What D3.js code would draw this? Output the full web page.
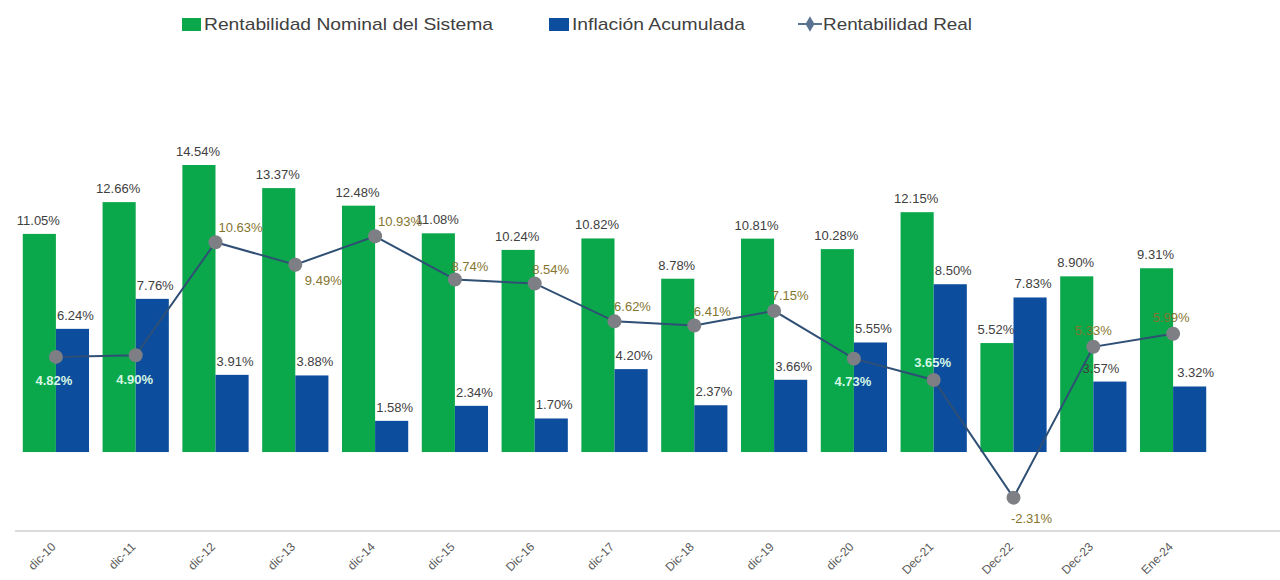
<!DOCTYPE html>
<html>
<head>
<meta charset="utf-8">
<script src="https://cdn.jsdelivr.net/npm/d3@7"></script>
<style>
  html, body { margin: 0; padding: 0; background: #fff; }
  svg { display: block; font-family: "Liberation Sans", Arial, sans-serif; }
</style>
</head>
<body>
<svg id="chart" width="1280" height="580"></svg>
<script>
// Periods on the x axis
const categories = ["dic-10", "dic-11", "dic-12", "dic-13", "dic-14", "dic-15", "Dic-16", "dic-17",
                    "Dic-18", "dic-19", "dic-20", "Dec-21", "Dec-22", "Dec-23", "Ene-24"];
// Nominal return of the system (%)
const nominal = [11.05, 12.66, 14.54, 13.37, 12.48, 11.08, 10.24, 10.82, 8.78, 10.81, 10.28, 12.15, 5.52, 8.90, 9.31];
// Accumulated inflation (%)
const inflation = [6.24, 7.76, 3.91, 3.88, 1.58, 2.34, 1.70, 4.20, 2.37, 3.66, 5.55, 8.50, 7.83, 3.57, 3.32];
// Real return (%)
const real = [4.82, 4.90, 10.63, 9.49, 10.93, 8.74, 8.54, 6.62, 6.41, 7.15, 4.73, 3.65, -2.31, 5.33, 5.99];

const seriesNames = ["Rentabilidad Nominal del Sistema", "Inflación Acumulada", "Rentabilidad Real"];

const GREEN = "#0aa84a";
const BLUE = "#0c4d9e";
const LINE = "#2f4f75";
const MARK = "#7d7f85";
const TEXT = "#404040";
const OLIVE = "#857530";
const LIGHT = "#d4f7e4";

const svg = d3.select("#chart");

const x = d3.scaleBand().domain(categories).range([16, 1213]).paddingInner(0.17).paddingOuter(0.085);
const sub = d3.scaleBand().domain(["n", "i"]).range([0, x.bandwidth()]);
const y = d3.scaleLinear().domain([-4, 18]).range([531, 96.7]);

const fmt = v => v.toFixed(2) + "%";

// bars
const groups = svg.append("g").selectAll("g").data(categories).join("g")
  .attr("transform", d => `translate(${x(d)},0)`);

groups.append("rect")
  .attr("x", sub("n")).attr("width", sub.bandwidth())
  .attr("y", (d, i) => y(nominal[i])).attr("height", (d, i) => y(0) - y(nominal[i]))
  .attr("fill", GREEN);

groups.append("rect")
  .attr("x", sub("i")).attr("width", sub.bandwidth())
  .attr("y", (d, i) => y(inflation[i])).attr("height", (d, i) => y(0) - y(inflation[i]))
  .attr("fill", BLUE);

// bar value labels
groups.append("text")
  .attr("x", sub("n") + sub.bandwidth() / 2 - 1)
  .attr("y", (d, i) => y(nominal[i]) - 9)
  .attr("text-anchor", "middle").attr("font-size", 13).attr("fill", TEXT)
  .text((d, i) => fmt(nominal[i]));

const inflShift = [3, 3, 3, 3, 3, 3, 3, 3, 3, 3, 3, 3, 3, -9, 6];
groups.append("text")
  .attr("x", (d, i) => sub("i") + sub.bandwidth() / 2 + inflShift[i])
  .attr("y", (d, i) => y(inflation[i]) - 9)
  .attr("text-anchor", "middle").attr("font-size", 13).attr("fill", TEXT)
  .text((d, i) => fmt(inflation[i]));

// x axis line
svg.append("line")
  .attr("x1", 15).attr("x2", 1280).attr("y1", y(-4)).attr("y2", y(-4))
  .attr("stroke", "#cfcfcf").attr("stroke-width", 1.5);

// x tick labels
const xAxis = d3.axisBottom(x).tickSize(0).tickPadding(0);
const ax = svg.append("g").attr("transform", `translate(0,${y(-4) + 14})`).call(xAxis);
ax.select(".domain").remove();
ax.selectAll("text")
  .attr("font-family", "Liberation Sans, Arial, sans-serif")
  .attr("font-size", 12).attr("fill", "#595959")
  .attr("text-anchor", "end")
  .attr("dy", "0.3em")
  .attr("transform", "translate(-2,0) rotate(-45)");

// real return line
const cx = c => x(c) + x.bandwidth() / 2;
const line = d3.line().x((d, i) => cx(categories[i])).y(d => y(d));
svg.append("path").datum(real)
  .attr("d", line).attr("fill", "none").attr("stroke", LINE).attr("stroke-width", 2);

svg.append("g").selectAll("circle").data(real).join("circle")
  .attr("cx", (d, i) => cx(categories[i])).attr("cy", d => y(d)).attr("r", 7)
  .attr("fill", MARK);

// label placement for the real-return points: [dx, dy, light]
const realLabelPos = [
  [-2, 24, 1], [-1, 25, 1], [25, -14, 0], [28, 16, 0], [25, -14, 0],
  [15, -13, 0], [16, -13, 0], [18, -14, 0], [18, -13, 0], [16, -15, 0],
  [-1, 23, 1], [-1, -17, 1], [18, 21, 0], [0, -16, 0], [-2, -16, 0]
];
svg.append("g").selectAll("text").data(real).join("text")
  .attr("x", (d, i) => cx(categories[i]) + realLabelPos[i][0])
  .attr("y", (d, i) => y(d) + realLabelPos[i][1] + 4)
  .attr("text-anchor", "middle").attr("font-size", 13)
  .attr("font-weight", (d, i) => realLabelPos[i][2] ? "bold" : "normal")
  .attr("fill", (d, i) => realLabelPos[i][2] ? LIGHT : OLIVE)
  .text(d => fmt(d));

// legend
const legend = svg.append("g").attr("font-size", 17).attr("fill", TEXT);
const lg1 = legend.append("g").attr("transform", "translate(182,24)");
lg1.append("rect").attr("x", 0).attr("y", -6).attr("width", 19).attr("height", 13).attr("fill", GREEN);
lg1.append("text").attr("x", 22).attr("y", 0).attr("dy", "0.35em")
  .attr("textLength", 289).attr("lengthAdjust", "spacingAndGlyphs").text(seriesNames[0]);

const lg2 = legend.append("g").attr("transform", "translate(549,24)");
lg2.append("rect").attr("x", 0).attr("y", -6).attr("width", 20).attr("height", 13).attr("fill", BLUE);
lg2.append("text").attr("x", 23).attr("y", 0).attr("dy", "0.35em")
  .attr("textLength", 173).attr("lengthAdjust", "spacingAndGlyphs").text(seriesNames[1]);

const lg3 = legend.append("g").attr("transform", "translate(798,24)");
lg3.append("line").attr("x1", 0).attr("x2", 24).attr("y1", 0).attr("y2", 0).attr("stroke", "#5b7390").attr("stroke-width", 2);
lg3.append("path").attr("d", d3.symbol(d3.symbolDiamond, 70)()).attr("transform", "translate(12,0)").attr("fill", "#5b7390");
lg3.append("text").attr("x", 25).attr("y", 0).attr("dy", "0.35em")
  .attr("textLength", 149).attr("lengthAdjust", "spacingAndGlyphs").text(seriesNames[2]);
</script>
</body>
</html>
